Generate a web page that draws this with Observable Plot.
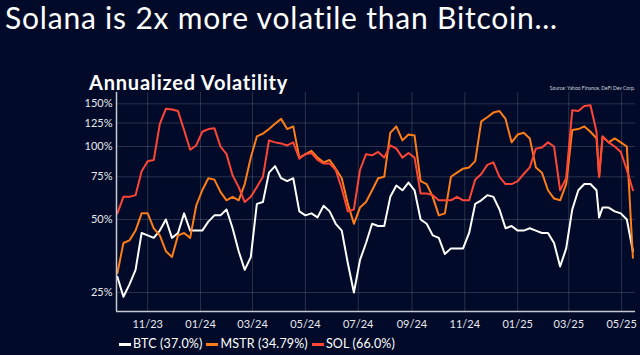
<!DOCTYPE html>
<html>
<head>
<meta charset="utf-8">
<script src="https://cdn.jsdelivr.net/npm/d3@7"></script>
<script src="https://cdn.jsdelivr.net/npm/@observablehq/plot@0.6"></script>
<style>
  html, body { margin: 0; padding: 0; background: #010b29; }
  #wrap { position: relative; width: 640px; height: 355px; overflow: hidden; background: #010b29; font-family: Lato, "Noto Sans", sans-serif; color: #fff; }
  #title { position: absolute; left: 5px; top: 0px; font-size: 30px; line-height: 34px; letter-spacing: 0.8px; font-weight: 400; white-space: nowrap; }
  #subtitle { position: absolute; left: 89px; top: 70px; font-size: 20px; line-height: 24px; letter-spacing: 0.8px; font-weight: 700; white-space: nowrap; }
  #source { position: absolute; right: 5px; top: 85px; font-size: 5px; color: #cfd3dc; white-space: nowrap; }
  #chart { position: absolute; left: 0; top: 0; }
  #legend { position: absolute; left: 119px; top: 336px; font-size: 12.5px; line-height: 16px; letter-spacing: 0.15px; display: flex; align-items: center; white-space: nowrap; }
  .item { display: flex; align-items: center; margin-right: 4px; }
  .sw { width: 12px; height: 3px; margin-right: 2px; display: inline-block; }
</style>
</head>
<body>
<div id="wrap">
  <div id="chart"></div>
  <div id="title">Solana is 2x more volatile than Bitcoin…</div>
  <div id="subtitle">Annualized Volatility</div>
  <div id="source">Source: Yahoo Finance, DeFi Dev Corp.</div>
  <div id="legend"></div>
</div>
<script>
const dates = [
  "2023-09-27","2023-10-04","2023-10-11","2023-10-18","2023-10-25","2023-11-01","2023-11-08","2023-11-15","2023-11-22","2023-11-29",
  "2023-12-06","2023-12-13","2023-12-20","2023-12-27","2024-01-03","2024-01-10","2024-01-17","2024-01-24","2024-01-31","2024-02-07",
  "2024-02-14","2024-02-21","2024-02-28","2024-03-06","2024-03-13","2024-03-20","2024-03-27","2024-04-03","2024-04-10","2024-04-17",
  "2024-04-24","2024-05-01","2024-05-08","2024-05-15","2024-05-22","2024-05-29","2024-06-05","2024-06-12","2024-06-19","2024-06-26",
  "2024-07-03","2024-07-10","2024-07-17","2024-07-24","2024-07-31","2024-08-07","2024-08-14","2024-08-21","2024-08-28","2024-09-04",
  "2024-09-11","2024-09-18","2024-09-25","2024-10-02","2024-10-09","2024-10-16","2024-10-23","2024-10-30","2024-11-06","2024-11-13",
  "2024-11-20","2024-11-27","2024-12-04","2024-12-11","2024-12-18","2024-12-25","2025-01-01","2025-01-08","2025-01-15","2025-01-22",
  "2025-01-29","2025-02-05","2025-02-12","2025-02-19","2025-02-26","2025-03-05","2025-03-12","2025-03-19","2025-03-26","2025-04-02",
  "2025-04-05",
  "2025-04-09","2025-04-16","2025-04-23","2025-04-30","2025-05-07","2025-05-14"
];
const btc = [
  29,24,27,31,44,43,42,45,50,42,
  44,53,45,45,45,49,52,52,55,46,
  37,31,35,58,59,78,83,74,72,74,
  54,52,53,51,57,54,48,45,33,25,
  34,40,48,47,47,62,69,66,71,66,
  50,48,43,42,36,38,38,38,44,58,
  60,63,62,55,46,47,45,45,46,45,
  44,44,40,32,38,55,66,70,70,66,
  51,
  56,56,54,53,50,37.0
];
const mstr = [
  30,40,41,45,53,53,46,43,37,35,
  43,44,42,57,66,74,73,65,60,62,
  60,70,90,110,113,118,124,130,118,121,
  90,93,96,90,86,88,81,74,58,48,
  56,59,66,74,75,114,121,106,112,111,
  72,70,62,52,53,75,78,81,82,87,
  127,132,138,140,130,104,112,114,108,82,
  78,66,61,60,70,117,118,121,115,108,
  75,
  110,104,108,104,100,34.79
];
const sol = [
  53,62,62,63,79,87,88,124,143,142,
  140,117,97,101,115,118,119,100,93,76,
  68,59,62,68,75,106,104,103,101,104,
  89,93,94,88,85,85,80,67,54,55,
  80,93,92,95,90,101,98,90,94,90,
  64,64,63,60,60,60,62,60,60,73,
  77,84,86,75,70,70,72,77,82,98,
  99,104,100,66,74,141,140,147,148,115,
  75,
  110,104,100,95,80,66.0
];
const seriesNames = ["BTC (37.0%)", "MSTR (34.79%)", "SOL (66.0%)"];
const seriesColors = ["#ffffff", "#ff7d18", "#ff4535"];
const xTickLabels = ["2023-11-01","2024-01-01","2024-03-01","2024-05-01","2024-07-01","2024-09-01","2024-11-01","2025-01-01","2025-03-01","2025-05-01"];
const yTickValues = [25, 50, 75, 100, 125, 150];
const xDomain = ["2023-09-26", "2025-05-17"];
const yDomain = [20.87, 167];

const parse = d3.utcParse("%Y-%m-%d");
const allSeries = [btc, mstr, sol];
const rows = [];
allSeries.forEach((vals, s) => {
  vals.forEach((v, i) => rows.push({date: parse(dates[i]), value: v, series: seriesNames[s]}));
});
const xTicks = xTickLabels.map(parse);
const xd = xDomain.map(parse);

const gridStroke = "rgba(255,255,255,0.16)";
const chart = Plot.plot({
  width: 640,
  height: 355,
  marginLeft: 116,
  marginRight: 5,
  marginTop: 92,
  marginBottom: 44,
  style: {background: "transparent", color: "#e8e8ee", fontFamily: "Lato, 'Noto Sans', sans-serif", fontSize: "11px"},
  x: {type: "utc", domain: xd, label: null},
  y: {type: "log", domain: yDomain, label: null},
  color: {domain: seriesNames, range: seriesColors},
  marks: [
    Plot.gridX(xTicks, {stroke: gridStroke, strokeOpacity: 1}),
    Plot.gridY(yTickValues, {stroke: gridStroke, strokeOpacity: 1}),
    Plot.axisX(xTicks, {tickSize: 0, tickPadding: 9, tickFormat: d3.utcFormat("%m/%y"), label: null, fill: "#e8e8ee"}),
    Plot.axisY(yTickValues, {tickSize: 0, tickPadding: 4, tickFormat: d => d + "%", label: null, fill: "#e8e8ee"}),
    Plot.line(rows, {x: "date", y: "value", z: "series", stroke: "series", strokeWidth: 2, strokeLinejoin: "round"}),
    Plot.ruleX([xd[0]], {stroke: "#c8c8d0", strokeWidth: 1.5}),
    Plot.ruleY([yDomain[0]], {stroke: "#c8c8d0", strokeWidth: 1.5})
  ]
});
document.getElementById("chart").appendChild(chart);

const legend = document.getElementById("legend");
seriesNames.forEach((n, i) => {
  const it = document.createElement("span");
  it.className = "item";
  const sw = document.createElement("span");
  sw.className = "sw";
  sw.style.background = seriesColors[i];
  const tx = document.createElement("span");
  tx.textContent = n;
  it.appendChild(sw);
  it.appendChild(tx);
  legend.appendChild(it);
});
</script>
</body>
</html>
